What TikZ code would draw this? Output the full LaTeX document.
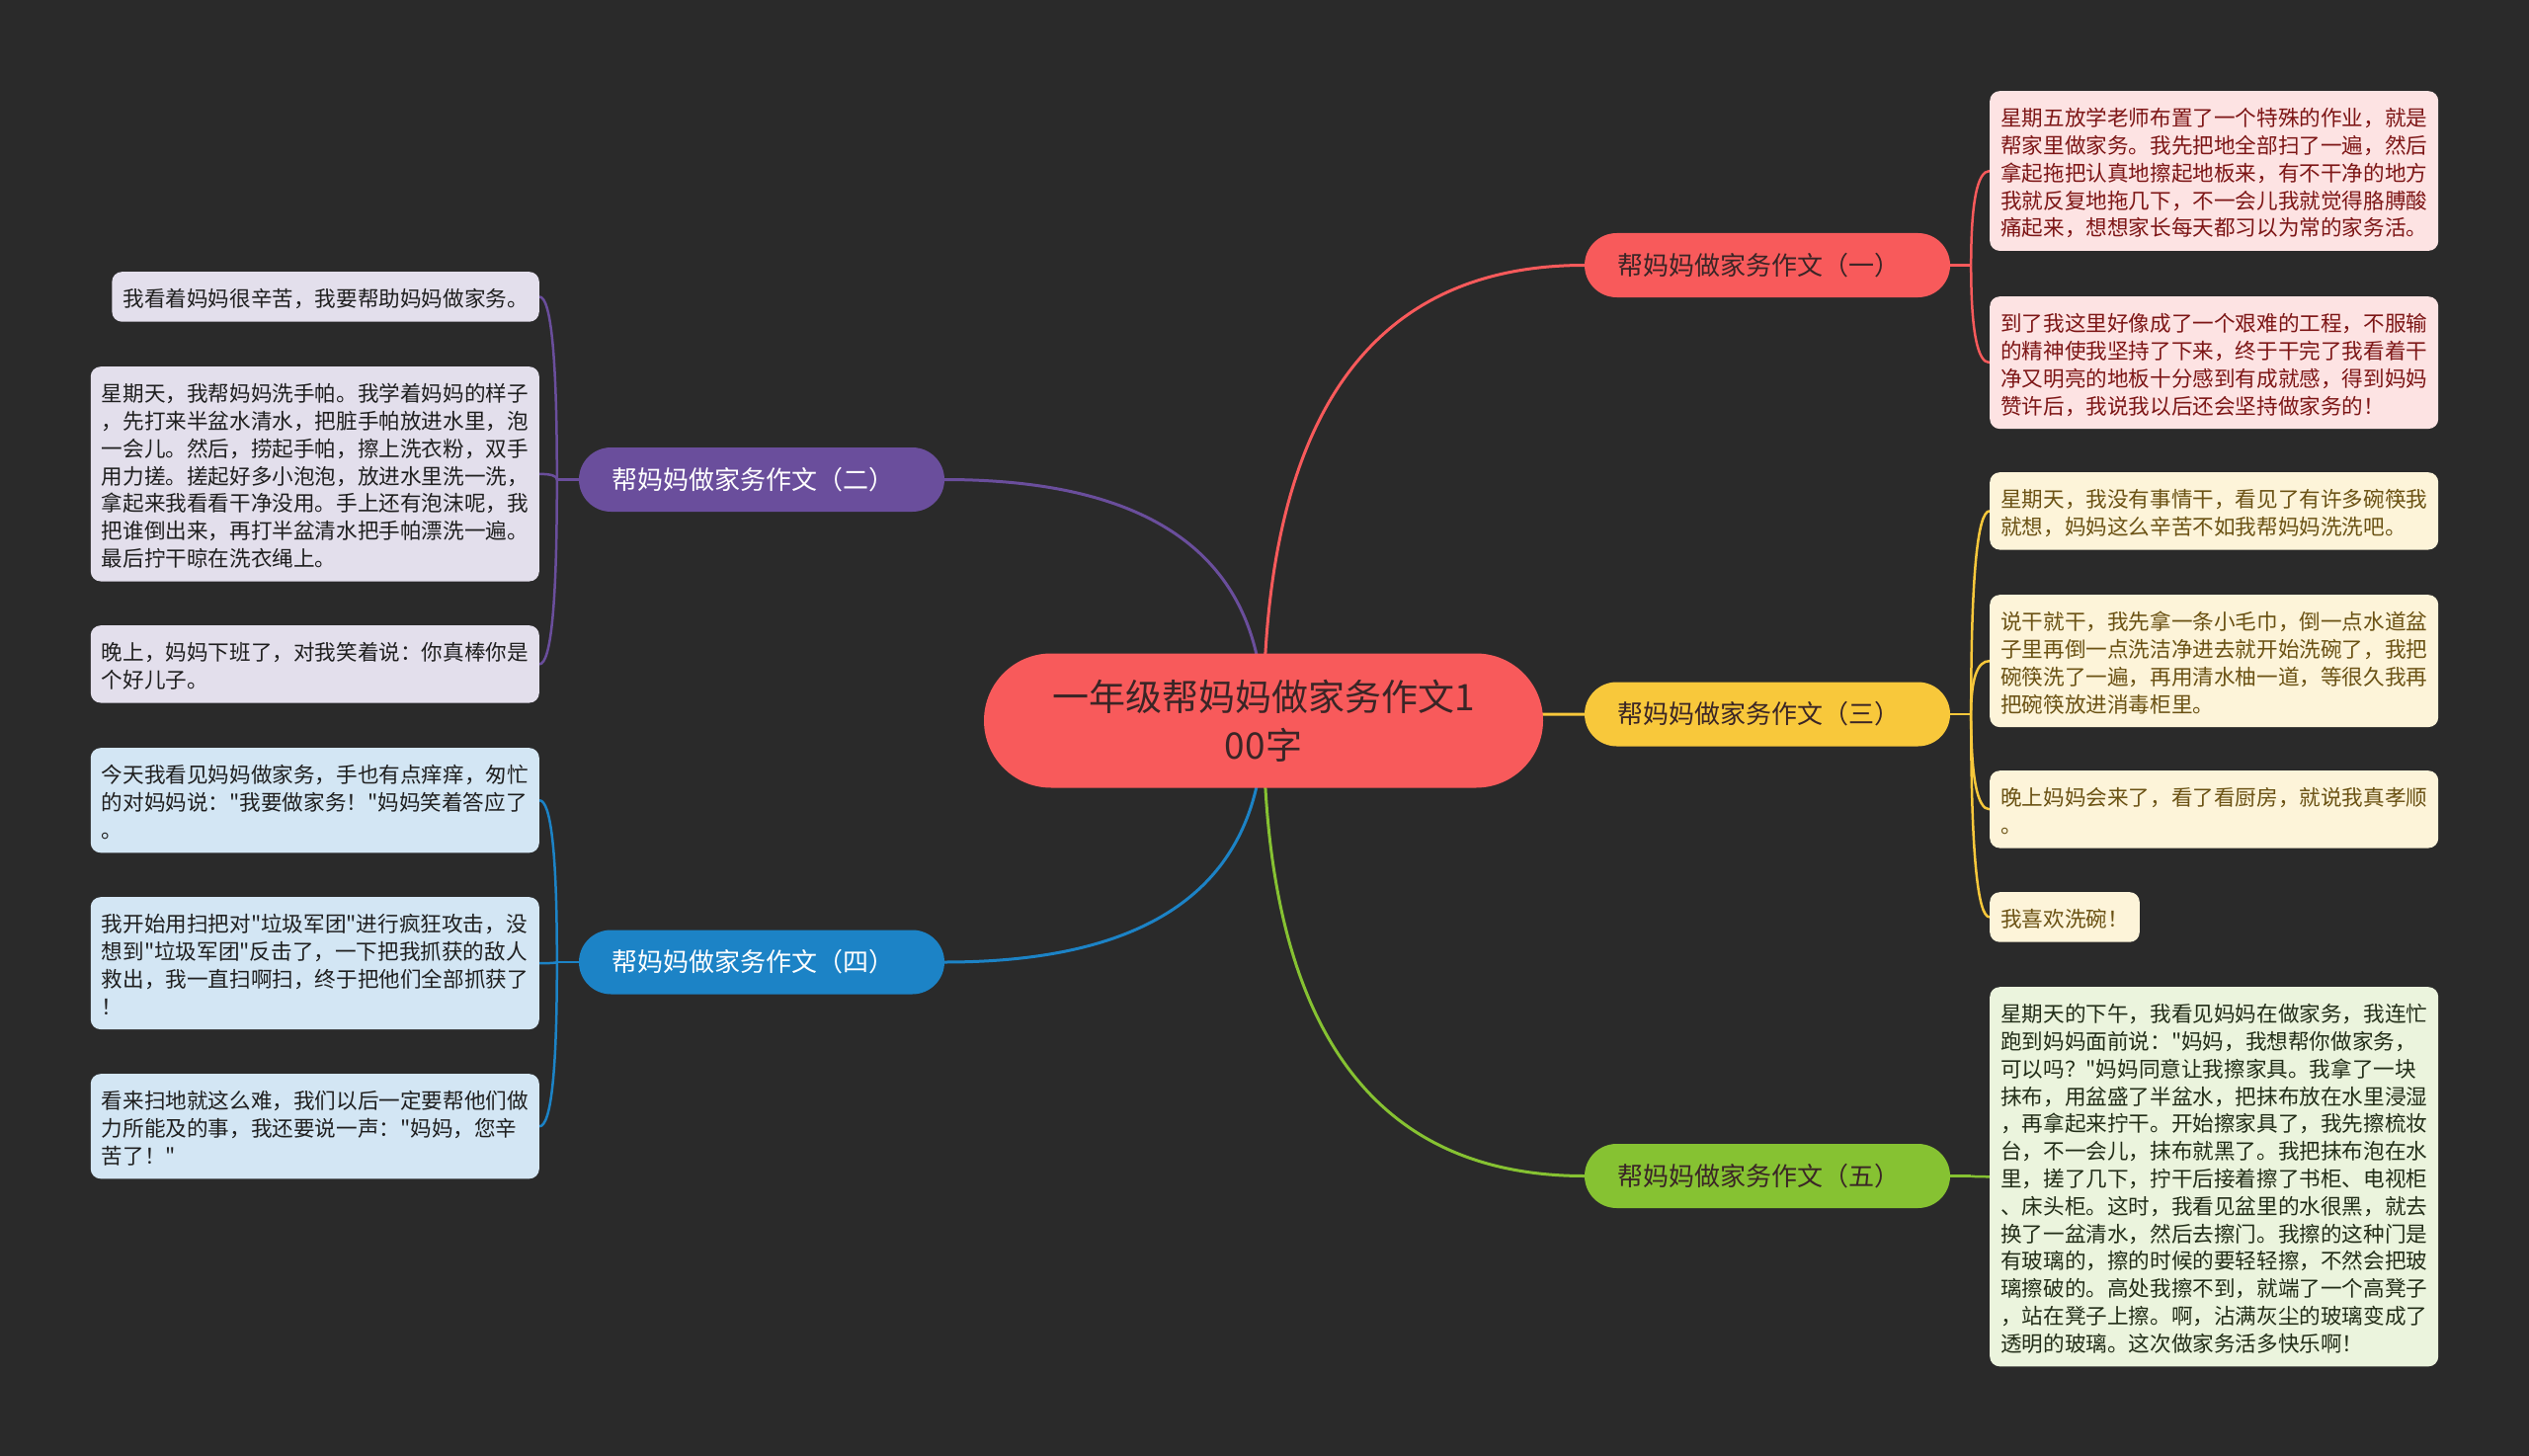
\documentclass[tikz,border=0pt]{standalone}
\usepackage{fontspec}
\setmainfont{Noto Sans CJK SC}[Ligatures=TeXOff]
\usetikzlibrary{calc}
\pgfdeclarelayer{back}
\pgfdeclarelayer{edges}
\pgfsetlayers{back,edges,main}
\definecolor{bgc}{HTML}{2A2A2A}
\definecolor{cred}{HTML}{F85A5B}
\definecolor{cpur}{HTML}{6A4E9C}
\definecolor{cyel}{HTML}{F8C83B}
\definecolor{cblu}{HTML}{1C83C6}
\definecolor{cgrn}{HTML}{86C232}
\definecolor{fred}{HTML}{FDE3E3}
\definecolor{tred}{HTML}{7D1616}
\definecolor{fyel}{HTML}{FDF4D9}
\definecolor{tyel}{HTML}{6B5214}
\definecolor{fgrn}{HTML}{EBF4DD}
\definecolor{tgrn}{HTML}{222D18}
\definecolor{fpur}{HTML}{E3DFEC}
\definecolor{fblu}{HTML}{D3E6F4}
\definecolor{tdark}{HTML}{1F1F1F}
\definecolor{ctext}{HTML}{3A2526}
\newcommand\tp{\rule{0pt}{25pt}}
\newcommand\bt{\rule[-4.5pt]{0pt}{4.5pt}}
\newcommand\qc[4]{\draw[#1] (#2) .. controls ($(#2)!0.6667!(#3)$) and ($(#4)!0.6667!(#3)$) .. (#4);}
\begin{document}
\begin{tikzpicture}[x=1pt,y=-1pt,
  mainedge/.style={line width=3pt},
  subedge/.style={line width=2.5pt},
  branch/.style={minimum height=65, rounded corners=32.5, text width=304, inner xsep=33, inner ysep=0, align=left, font=\fontsize{26}{30}\selectfont},
  leaf/.style={rounded corners=10, inner xsep=11, inner ysep=10.5, align=left, font=\fontsize{21.6}{27.8}\selectfont},
  leafR/.style={leaf, anchor=north west, fill=fred, text=tred},
  leafY/.style={leaf, anchor=north west, fill=fyel, text=tyel},
  leafG/.style={leaf, anchor=north west, fill=fgrn, text=tgrn},
  leafP/.style={leaf, anchor=north east, fill=fpur, text=tdark},
  leafB/.style={leaf, anchor=north east, fill=fblu, text=tdark}]
\begin{pgfonlayer}{back}
\fill[bgc] (0,0) rectangle (2560,1474);
\end{pgfonlayer}
\useasboundingbox (0,0) rectangle (2560,1474);

\node[fill=cred, text=ctext, minimum width=566, minimum height=136, rounded corners=68, align=center, inner sep=0, font=\fontsize{37}{49}\selectfont] (c) at (1279,729.5) {一年级帮妈妈做家务作文1\\00字};

\node[branch, fill=cred, text=ctext] (b1) at (1789,268.5) {帮妈妈做家务作文（一）};
\node[branch, fill=cpur, text=white] (b2) at (771,485.5) {帮妈妈做家务作文（二）};
\node[branch, fill=cyel, text=ctext] (b3) at (1789,723) {帮妈妈做家务作文（三）};
\node[branch, fill=cblu, text=white] (b4) at (771,974) {帮妈妈做家务作文（四）};
\node[branch, fill=cgrn, text=ctext] (b5) at (1789,1190.5) {帮妈妈做家务作文（五）};

\node[leafR] (r1) at (2014,92) {\tp 星期五放学老师布置了一个特殊的作业，就是\\帮家里做家务。我先把地全部扫了一遍，然后\\拿起拖把认真地擦起地板来，有不干净的地方\\我就反复地拖几下，不一会儿我就觉得胳膊酸\\痛起来，想想家长每天都习以为常的家务活。\bt};
\node[leafR] (r2) at (2014,300) {\tp 到了我这里好像成了一个艰难的工程，不服输\\的精神使我坚持了下来，终于干完了我看着干\\净又明亮的地板十分感到有成就感，得到妈妈\\赞许后，我说我以后还会坚持做家务的！\bt};
\node[leafY] (r3) at (2014,478) {\tp 星期天，我没有事情干，看见了有许多碗筷我\\就想，妈妈这么辛苦不如我帮妈妈洗洗吧。\bt};
\node[leafY] (r4) at (2014,602) {\tp 说干就干，我先拿一条小毛巾，倒一点水道盆\\子里再倒一点洗洁净进去就开始洗碗了，我把\\碗筷洗了一遍，再用清水柚一道，等很久我再\\把碗筷放进消毒柜里。\bt};
\node[leafY] (r5) at (2014,780) {\tp 晚上妈妈会来了，看了看厨房，就说我真孝顺\\。\bt};
\node[leafY] (r6) at (2014,903) {\tp 我喜欢洗碗！\bt};
\node[leafG] (r7) at (2014,999) {\tp 星期天的下午，我看见妈妈在做家务，我连忙\\跑到妈妈面前说："妈妈，我想帮你做家务，\\可以吗？"妈妈同意让我擦家具。我拿了一块\\抹布，用盆盛了半盆水，把抹布放在水里浸湿\\，再拿起来拧干。开始擦家具了，我先擦梳妆\\台，不一会儿，抹布就黑了。我把抹布泡在水\\里，搓了几下，拧干后接着擦了书柜、电视柜\\、床头柜。这时，我看见盆里的水很黑，就去\\换了一盆清水，然后去擦门。我擦的这种门是\\有玻璃的，擦的时候的要轻轻擦，不然会把玻\\璃擦破的。高处我擦不到，就端了一个高凳子\\，站在凳子上擦。啊，沾满灰尘的玻璃变成了\\透明的玻璃。这次做家务活多快乐啊！\bt};

\node[leafP] (l1) at (546,275) {\tp 我看着妈妈很辛苦，我要帮助妈妈做家务。\bt};
\node[leafP] (l2) at (546,371) {\tp 星期天，我帮妈妈洗手帕。我学着妈妈的样子\\，先打来半盆水清水，把脏手帕放进水里，泡\\一会儿。然后，捞起手帕，擦上洗衣粉，双手\\用力搓。搓起好多小泡泡，放进水里洗一洗，\\拿起来我看看干净没用。手上还有泡沫呢，我\\把谁倒出来，再打半盆清水把手帕漂洗一遍。\\最后拧干晾在洗衣绳上。\bt};
\node[leafP] (l3) at (546,633) {\tp 晚上，妈妈下班了，对我笑着说：你真棒你是\\个好儿子。\bt};
\node[leafB] (l4) at (546,757) {\tp 今天我看见妈妈做家务，手也有点痒痒，匆忙\\的对妈妈说："我要做家务！"妈妈笑着答应了\\。\bt};
\node[leafB] (l5) at (546,908) {\tp 我开始用扫把对"垃圾军团"进行疯狂攻击，没\\想到"垃圾军团"反击了，一下把我抓获的敌人\\救出，我一直扫啊扫，终于把他们全部抓获了\\！\bt};
\node[leafB] (l6) at (546,1087) {\tp 看来扫地就这么难，我们以后一定要帮他们做\\力所能及的事，我还要说一声："妈妈，您辛\\苦了！"\bt};

\begin{pgfonlayer}{edges}
\qc{cred,mainedge}{c.center}{c.center |- b1.west}{b1.west}
\qc{cpur,mainedge}{c.center}{c.center |- b2.east}{b2.east}
\qc{cyel,mainedge}{c.center}{c.center |- b3.west}{b3.west}
\qc{cblu,mainedge}{c.center}{c.center |- b4.east}{b4.east}
\qc{cgrn,mainedge}{c.center}{c.center |- b5.west}{b5.west}

\coordinate (j1) at ($(b1.east)+(21,0)$);
\coordinate (j2) at ($(b2.west)+(-22,0)$);
\coordinate (j3) at ($(b3.east)+(21,0)$);
\coordinate (j4) at ($(b4.west)+(-22,0)$);
\coordinate (j5) at ($(b5.east)+(21,0)$);
\draw[cred,subedge] (b1.east) -- (j1);
\draw[cpur,subedge] (b2.west) -- (j2);
\draw[cyel,subedge] (b3.east) -- (j3);
\draw[cblu,subedge] (b4.west) -- (j4);
\draw[cgrn,subedge] (b5.east) -- (j5);
\qc{cred,subedge}{j1}{j1 |- r1.west}{r1.west}
\qc{cred,subedge}{j1}{j1 |- r2.west}{r2.west}
\qc{cyel,subedge}{j3}{j3 |- r3.west}{r3.west}
\qc{cyel,subedge}{j3}{j3 |- r4.west}{r4.west}
\qc{cyel,subedge}{j3}{j3 |- r5.west}{r5.west}
\qc{cyel,subedge}{j3}{j3 |- r6.west}{r6.west}
\qc{cgrn,subedge}{j5}{j5 |- r7.west}{r7.west}
\qc{cpur,subedge}{j2}{j2 |- l1.east}{l1.east}
\qc{cpur,subedge}{j2}{j2 |- l2.east}{l2.east}
\qc{cpur,subedge}{j2}{j2 |- l3.east}{l3.east}
\qc{cblu,subedge}{j4}{j4 |- l4.east}{l4.east}
\qc{cblu,subedge}{j4}{j4 |- l5.east}{l5.east}
\qc{cblu,subedge}{j4}{j4 |- l6.east}{l6.east}
\end{pgfonlayer}
\end{tikzpicture}
\end{document}
